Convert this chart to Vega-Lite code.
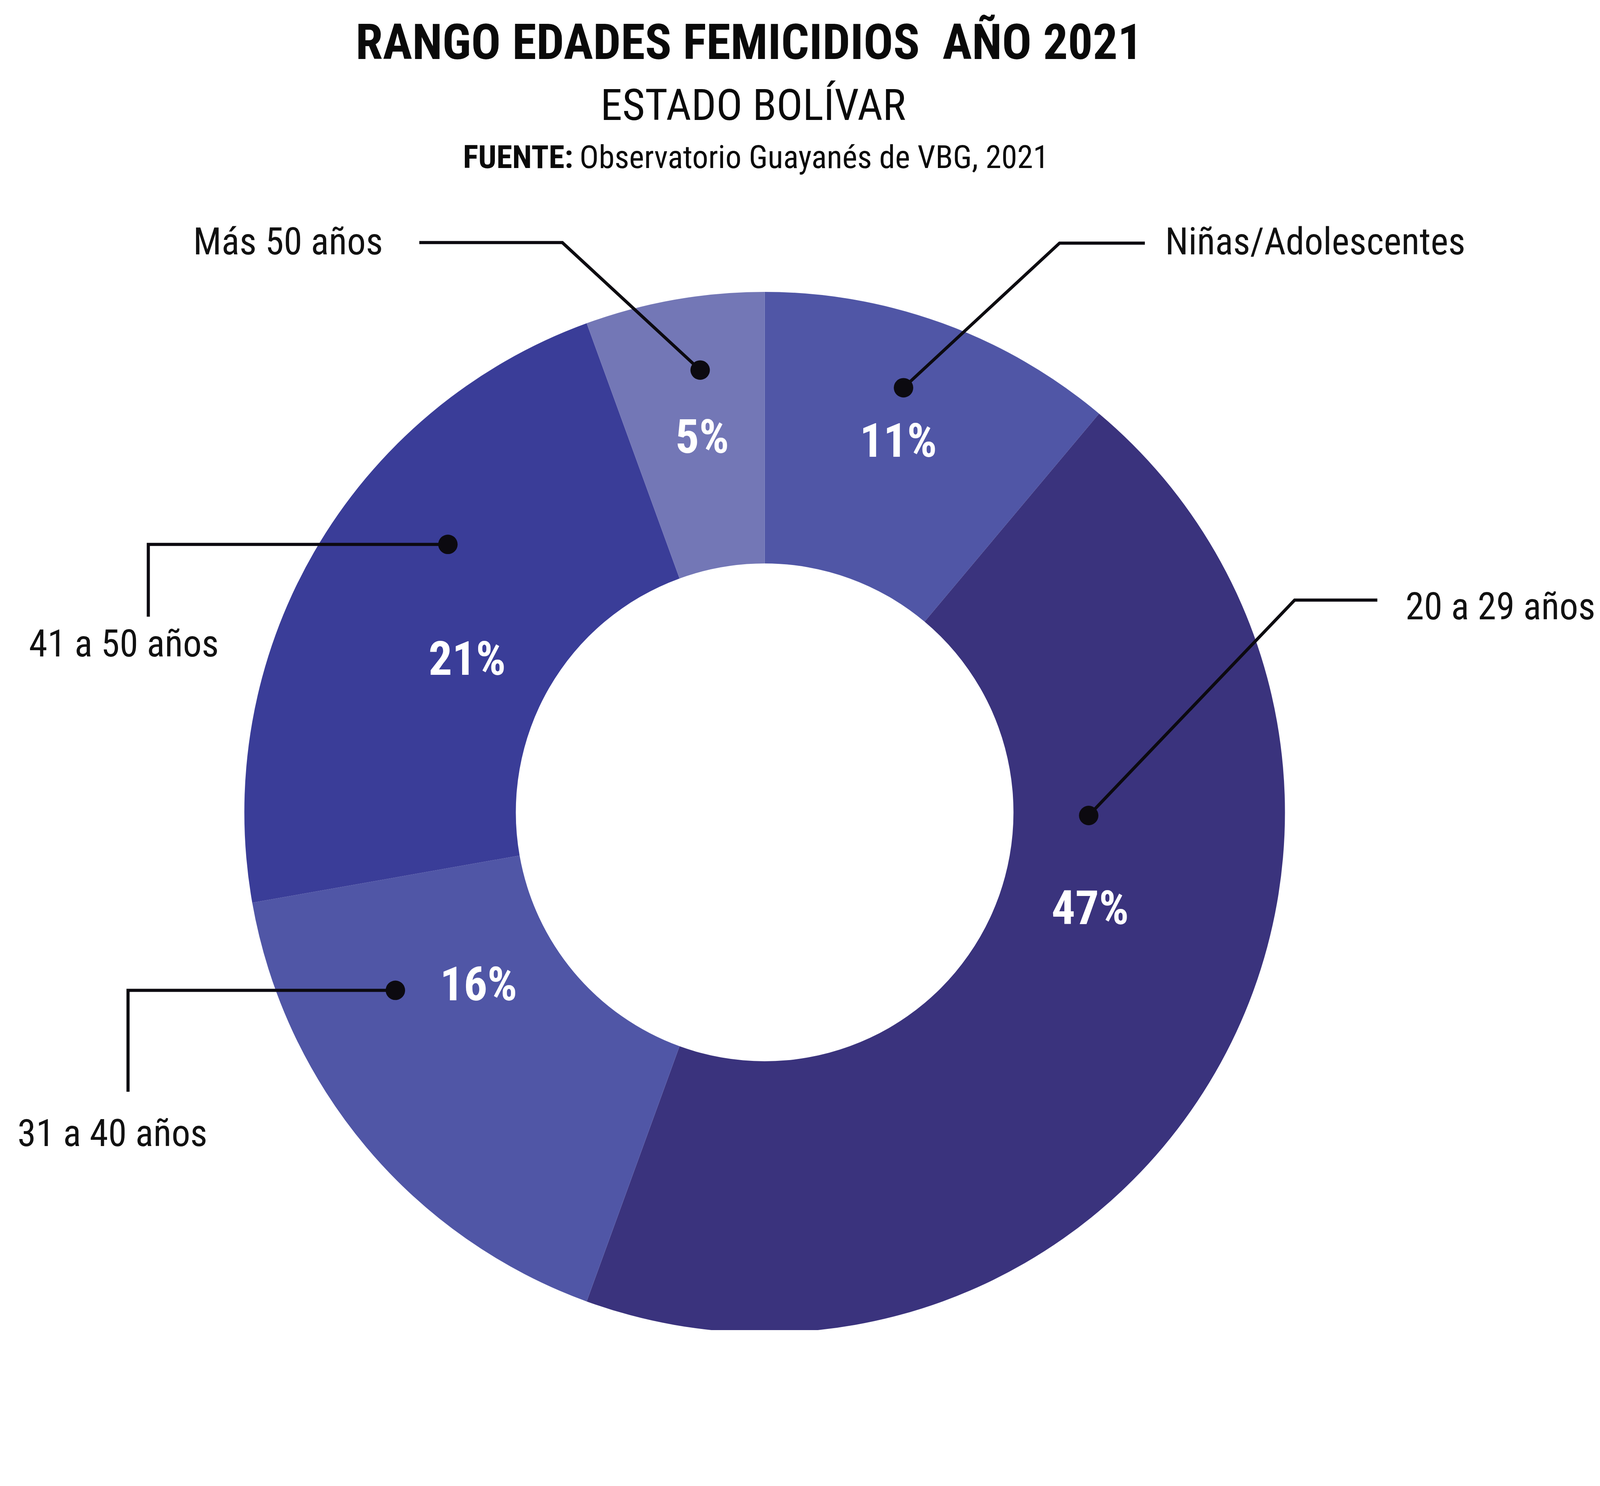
{
  "$schema": "https://vega.github.io/schema/vega-lite/v6.json",
  "width": 2663,
  "height": 2650,
  "autosize": {"type": "none"},
  "padding": {"left": 626, "top": 754, "right": 814, "bottom": 0},
  "background": "white",
  "view": {"stroke": null},
  "config": {"font": "Roboto Condensed, Liberation Sans Narrow, DejaVu Sans Condensed, sans-serif"},
  "datasets": {
    "grupos": [
      {"grupo": "Niñas/Adolescentes", "casos": 2, "orden": 1, "pct": "11%", "u": 25.7, "v": 68.3},
      {"grupo": "20 a 29 años", "casos": 8, "orden": 2, "pct": "47%", "u": 62.6, "v": -21.5},
      {"grupo": "31 a 40 años", "casos": 3, "orden": 3, "pct": "16%", "u": -55.0, "v": -36.1},
      {"grupo": "41 a 50 años", "casos": 4, "orden": 4, "pct": "21%", "u": -57.2, "v": 26.4},
      {"grupo": "Más 50 años", "casos": 1, "orden": 5, "pct": "5%", "u": -12.0, "v": 69.1}
    ],
    "guias": [
      {"grupo": "Más 50 años", "paso": 1, "u": -66.4, "v": 109.5},
      {"grupo": "Más 50 años", "paso": 2, "u": -38.9, "v": 109.5},
      {"grupo": "Más 50 años", "paso": 3, "u": -12.4, "v": 85.0},
      {"grupo": "Niñas/Adolescentes", "paso": 1, "u": 26.7, "v": 81.6},
      {"grupo": "Niñas/Adolescentes", "paso": 2, "u": 56.7, "v": 109.4},
      {"grupo": "Niñas/Adolescentes", "paso": 3, "u": 73.1, "v": 109.4},
      {"grupo": "20 a 29 años", "paso": 1, "u": 62.3, "v": -0.6},
      {"grupo": "20 a 29 años", "paso": 2, "u": 101.9, "v": 40.8},
      {"grupo": "20 a 29 años", "paso": 3, "u": 117.8, "v": 40.8},
      {"grupo": "41 a 50 años", "paso": 1, "u": -60.9, "v": 51.5},
      {"grupo": "41 a 50 años", "paso": 2, "u": -118.5, "v": 51.5},
      {"grupo": "41 a 50 años", "paso": 3, "u": -118.5, "v": 37.6},
      {"grupo": "31 a 40 años", "paso": 1, "u": -71.0, "v": -34.2},
      {"grupo": "31 a 40 años", "paso": 2, "u": -122.4, "v": -34.2},
      {"grupo": "31 a 40 años", "paso": 3, "u": -122.4, "v": -53.7}
    ],
    "puntos": [
      {"grupo": "Más 50 años", "u": -12.4, "v": 85.0},
      {"grupo": "Niñas/Adolescentes", "u": 26.7, "v": 81.6},
      {"grupo": "20 a 29 años", "u": 62.3, "v": -0.6},
      {"grupo": "41 a 50 años", "u": -60.9, "v": 51.5},
      {"grupo": "31 a 40 años", "u": -71.0, "v": -34.2}
    ],
    "etiquetas_der": [
      {"texto": "Más 50 años", "u": -73.4, "v": 107.2}
    ],
    "etiquetas_izq": [
      {"texto": "Niñas/Adolescentes", "u": 77.0, "v": 107.2},
      {"texto": "20 a 29 años", "u": 123.2, "v": 37.1}
    ],
    "etiquetas_centro": [
      {"texto": "41 a 50 años", "u": -123.2, "v": 30.0},
      {"texto": "31 a 40 años", "u": -125.4, "v": -64.1}
    ],
    "titulo": [{"texto": "RANGO EDADES FEMICIDIOS\u00a0 AÑO 2021", "u": -3.0, "v": 144.8}],
    "subtitulo": [{"texto": "ESTADO BOLÍVAR", "u": -2.2, "v": 133.1}],
    "fuente_a": [{"texto": "FUENTE:", "u": -36.8, "v": 123.8}],
    "fuente_b": [{"texto": "Observatorio Guayanés de VBG, 2021", "u": -35.6, "v": 123.8}]
  },
  "layer": [
    {
      "data": {"name": "grupos"},
      "mark": {"type": "arc", "innerRadius": 637, "outerRadius": 1332},
      "encoding": {
        "theta": {"field": "casos", "type": "quantitative", "stack": true},
        "order": {"field": "orden", "type": "quantitative"},
        "color": {
          "field": "grupo",
          "type": "nominal",
          "legend": null,
          "scale": {
            "domain": ["Niñas/Adolescentes", "20 a 29 años", "31 a 40 años", "41 a 50 años", "Más 50 años"],
            "range": ["#5056A6", "#3A337D", "#5056A6", "#3A3D98", "#7377B6"]
          }
        }
      }
    },
    {
      "data": {"name": "guias"},
      "mark": {"type": "line", "color": "#0c0a10", "strokeWidth": 8, "strokeJoin": "miter"},
      "encoding": {
        "x": {"field": "u", "type": "quantitative", "axis": null, "scale": {"domain": [-100, 100], "nice": false, "zero": false}},
        "y": {"field": "v", "type": "quantitative", "axis": null, "scale": {"domain": [-99.5, 99.5], "nice": false, "zero": false}},
        "detail": {"field": "grupo"},
        "order": {"field": "paso", "type": "quantitative"}
      }
    },
    {
      "data": {"name": "puntos"},
      "mark": {"type": "point", "filled": true, "color": "#0c0a10", "opacity": 1, "size": 2480},
      "encoding": {
        "x": {"field": "u", "type": "quantitative"},
        "y": {"field": "v", "type": "quantitative"}
      }
    },
    {
      "data": {"name": "grupos"},
      "mark": {"type": "text", "color": "white", "fontWeight": "bold", "fontSize": 120, "align": "center", "baseline": "alphabetic"},
      "encoding": {
        "x": {"field": "u", "type": "quantitative"},
        "y": {"field": "v", "type": "quantitative"},
        "text": {"field": "pct"}
      }
    },
    {
      "data": {"name": "etiquetas_der"},
      "mark": {"type": "text", "color": "#111111", "fontSize": 96, "align": "right", "baseline": "alphabetic"},
      "encoding": {
        "x": {"field": "u", "type": "quantitative"},
        "y": {"field": "v", "type": "quantitative"},
        "text": {"field": "texto"}
      }
    },
    {
      "data": {"name": "etiquetas_izq"},
      "mark": {"type": "text", "color": "#111111", "fontSize": 96, "align": "left", "baseline": "alphabetic"},
      "encoding": {
        "x": {"field": "u", "type": "quantitative"},
        "y": {"field": "v", "type": "quantitative"},
        "text": {"field": "texto"}
      }
    },
    {
      "data": {"name": "etiquetas_centro"},
      "mark": {"type": "text", "color": "#111111", "fontSize": 96, "align": "center", "baseline": "alphabetic"},
      "encoding": {
        "x": {"field": "u", "type": "quantitative"},
        "y": {"field": "v", "type": "quantitative"},
        "text": {"field": "texto"}
      }
    },
    {
      "data": {"name": "titulo"},
      "mark": {"type": "text", "color": "#0a0a0a", "fontSize": 126, "fontWeight": "bold", "align": "center", "baseline": "alphabetic"},
      "encoding": {
        "x": {"field": "u", "type": "quantitative"},
        "y": {"field": "v", "type": "quantitative"},
        "text": {"field": "texto"}
      }
    },
    {
      "data": {"name": "subtitulo"},
      "mark": {"type": "text", "color": "#0a0a0a", "fontSize": 112, "align": "center", "baseline": "alphabetic"},
      "encoding": {
        "x": {"field": "u", "type": "quantitative"},
        "y": {"field": "v", "type": "quantitative"},
        "text": {"field": "texto"}
      }
    },
    {
      "data": {"name": "fuente_a"},
      "mark": {"type": "text", "color": "#0a0a0a", "fontSize": 82, "fontWeight": "bold", "align": "right", "baseline": "alphabetic"},
      "encoding": {
        "x": {"field": "u", "type": "quantitative"},
        "y": {"field": "v", "type": "quantitative"},
        "text": {"field": "texto"}
      }
    },
    {
      "data": {"name": "fuente_b"},
      "mark": {"type": "text", "color": "#0a0a0a", "fontSize": 82, "align": "left", "baseline": "alphabetic"},
      "encoding": {
        "x": {"field": "u", "type": "quantitative"},
        "y": {"field": "v", "type": "quantitative"},
        "text": {"field": "texto"}
      }
    }
  ]
}
